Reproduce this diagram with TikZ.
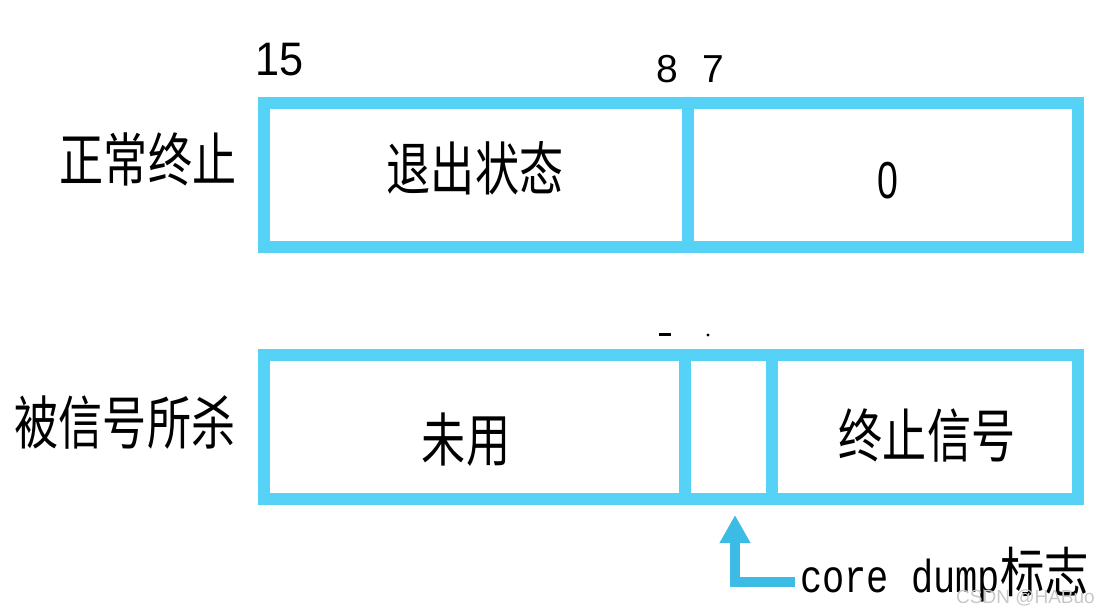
\documentclass[tikz,border=0pt]{standalone}
\usepackage{fontspec}
\usepackage{graphicx}
\usetikzlibrary{arrows.meta}
\newfontfamily\cjk{Noto Sans CJK SC}
\newfontfamily\numfont{Liberation Sans}
\newfontfamily\monofont{Liberation Mono}
\definecolor{boxblue}{HTML}{55D2F6}
\definecolor{arrowblue}{HTML}{3CBCE4}
\newcommand\hsq[2]{\scalebox{#1}[1]{#2}}
\tikzset{
  cellbox/.style={draw=boxblue, line width=12pt, line join=miter},
  divider/.style={draw=boxblue, line width=12pt},
  cjklabel/.style={inner sep=0pt, font=\cjk\fontsize{58}{60}\selectfont},
  numlabel/.style={inner sep=0pt, font=\numfont\fontsize{39}{42}\selectfont},
  flagarrow/.style={draw=arrowblue, line width=10pt, line join=miter,
    -{Triangle[width=29pt,length=28pt]}},
  markline/.style={draw=black, line width=3pt},
  watermark/.style={inner sep=0pt, text=black!22, font=\numfont\fontsize{19}{20}\selectfont}
}
\begin{document}
\begin{tikzpicture}[x=1pt,y=-1pt]
\useasboundingbox (0,0) rectangle (1099,614);
% top register
\draw[cellbox] (264,103) rectangle (1078,247);
\draw[divider] (687.5,103) -- (687.5,247);
% bottom register
\draw[cellbox] (264,355) rectangle (1078,499);
\draw[divider] (685,355) -- (685,499);
\draw[divider] (772,355) -- (772,499);
% bit numbers
\node[numlabel, font=\numfont\fontsize{47}{50}\selectfont] (b15) at (280,60) {\hsq{0.92}{15}};
\node[numlabel] (b8) at (667,69) {8};
\node[numlabel] (b7) at (713,69) {7};
% small marks
\draw[markline] (659,334) -- (671,334);
\fill (708,335) circle (1.6);
% row labels
\node[cjklabel] (normal) at (148,159) {\hsq{0.76}{正常终止}};
\node[cjklabel] (killed) at (125,422) {\hsq{0.76}{被信号所杀}};
% cell texts
\node[cjklabel] (exitst) at (475,168) {\hsq{0.76}{退出状态}};
\node[numlabel, font=\numfont\fontsize{52}{54}\selectfont] (zero) at (888,181) {\hsq{0.72}{0}};
\node[cjklabel] (unused) at (466,440) {\hsq{0.76}{未用}};
\node[cjklabel] (termsig) at (927,436) {\hsq{0.76}{终止信号}};
% core dump flag
\coordinate (hook) at (795,582);
\coordinate (corner) at (735,582);
\coordinate (tip) at (735,515);
\draw[flagarrow] (hook) -- (corner) -- (tip);
\node[inner sep=0pt, anchor=base west] (core) at (800,592)
  {{\monofont\fontsize{37}{40}\selectfont\scalebox{1}[1.25]{core dump}}{\cjk\fontsize{54}{56}\selectfont\hsq{0.82}{标志}}};
% watermark
\node[watermark, anchor=base west] (wm) at (956,603) {CSDN @HABuo};
\end{tikzpicture}
\end{document}
